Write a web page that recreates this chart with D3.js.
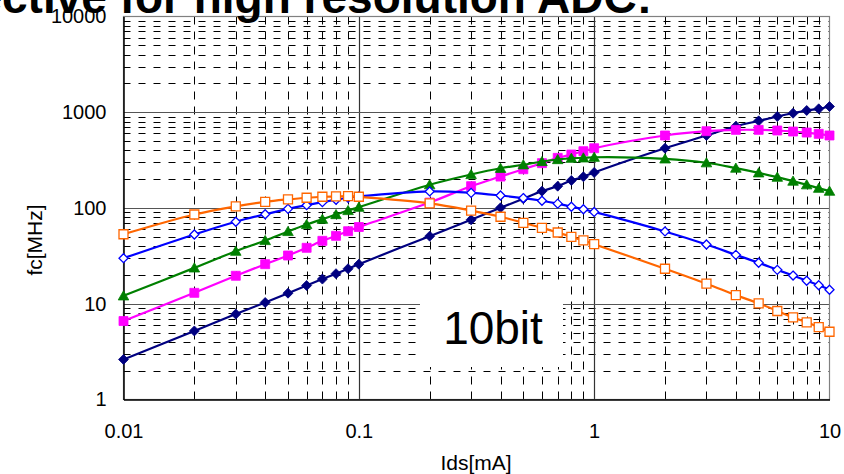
<!DOCTYPE html>
<html>
<head>
<meta charset="utf-8">
<script src="https://cdn.jsdelivr.net/npm/d3@7"></script>
<style>
  html, body { margin: 0; padding: 0; background: #fff; }
  svg { display: block; }
  text { font-family: "Liberation Sans", Arial, sans-serif; }
</style>
</head>
<body>
<svg id="chart" width="844" height="474"></svg>
<script>
// ---- data ----
const idsValues = [0.01,0.02,0.03,0.04,0.05,0.06,0.07,0.08,0.09,0.1,
                   0.2,0.3,0.4,0.5,0.6,0.7,0.8,0.9,1,
                   2,3,4,5,6,7,8,9,10];
const seriesNavy    = [2.62,5.2,7.8,10.3,12.9,15.5,18.1,20.6,23.2,25.9,
                       50.8,75.3,100.5,125,150,169,194,212,235,
                       421,572,715,813,903,977,1043,1086,1148];
const seriesMagenta = [6.6,13,19.6,25.9,31.9,38.4,45.4,51.2,57.2,63.3,
                       114,169,213,254,294,334,362,392,421,
                       572,634,655,655,645,629,614,595,572];
const seriesGreen   = [12.1,23.7,35.4,45.8,56.9,67.3,76.4,85.5,94.2,102,
                       175,224,260,283,306,321,331,334,339,
                       326,297,261,233,210,191,175,161,150];
const seriesBlue    = [29.9,52.9,71.8,86.1,98,107,115,122,128,132,
                       149,144,135,127,119,111,103,97,91,
                       56.9,41.6,32.4,26.8,22.6,19.7,17.4,15.6,14];
const seriesOrange  = [53.2,85.5,104,116,123,128,131,132,133,131,
                       112,94,81,70,62,55.5,50,45.8,41.9,
                       23.2,16.2,12.3,10.1,8.4,7.2,6.4,5.7,5.1];
const xTickValues = [0.01, 0.1, 1, 10];
const xTickLabels = ["0.01", "0.1", "1", "10"];
const yTickValues = [1, 10, 100, 1000, 10000];
const yTickLabels = ["1", "10", "100", "1000", "10000"];
const titleText = "Effective for high resolution ADC:";
const xAxisTitle = "Ids[mA]";
const yAxisTitle = "fc[MHz]";
const noteText = "10bit";

// ---- layout ----
const svg = d3.select("#chart");
const L = 123.5, R = 829.5, T = 16.5, B = 399.5;
const x = d3.scaleLog().domain([0.01, 10]).range([L, R]);
const y = d3.scaleLog().domain([1, 10000]).range([B, T]);

// minor gridlines
const minorX = [], minorY = [];
[0.01, 0.1, 1].forEach(d => { for (let k = 2; k <= 9; k++) minorX.push(+(d * k).toPrecision(3)); });
[1, 10, 100, 1000].forEach(d => { for (let k = 2; k <= 9; k++) minorY.push(d * k); });

const grid = svg.append("g");
grid.selectAll("line.mx").data(minorX).join("line")
  .attr("x1", d => Math.round(x(d)) + 0.5).attr("x2", d => Math.round(x(d)) + 0.5)
  .attr("y1", B).attr("y2", T)
  .attr("stroke", "#000").attr("stroke-width", 1).attr("stroke-dasharray", "8,7");
grid.selectAll("line.my").data(minorY).join("line")
  .attr("y1", d => Math.round(y(d)) + 0.5).attr("y2", d => Math.round(y(d)) + 0.5)
  .attr("x1", L).attr("x2", R)
  .attr("stroke", "#000").attr("stroke-width", 1).attr("stroke-dasharray", "7,8");
// major gridlines
grid.selectAll("line.Mx").data([0.1, 1]).join("line")
  .attr("x1", d => Math.round(x(d)) + 0.5).attr("x2", d => Math.round(x(d)) + 0.5)
  .attr("y1", B).attr("y2", T).attr("stroke", "#333").attr("stroke-width", 1.2);
grid.selectAll("line.My").data([10, 100, 1000]).join("line")
  .attr("y1", d => Math.round(y(d)) + 0.5).attr("y2", d => Math.round(y(d)) + 0.5)
  .attr("x1", L).attr("x2", R).attr("stroke", "#555").attr("stroke-width", 1.2);

// plot border
svg.append("rect").attr("x", L).attr("y", T).attr("width", R - L).attr("height", B - T)
  .attr("fill", "none").attr("stroke", "#808080").attr("stroke-width", 1.2);

// white note box
svg.append("rect").attr("x", 420).attr("y", 286).attr("width", 143).attr("height", 81)
  .attr("fill", "#fff");
svg.append("text").attr("x", 493).attr("y", 344).attr("text-anchor", "middle")
  .attr("font-size", 46).attr("fill", "#000").text(noteText);

// axes
const xAxis = d3.axisBottom(x).tickValues(xTickValues)
  .tickFormat((d, i) => xTickLabels[i]).tickSize(0).tickPadding(24);
const gx = svg.append("g").attr("transform", `translate(0,${B})`).call(xAxis);
gx.select(".domain").attr("stroke", "#000").attr("stroke-width", 1.5);
gx.selectAll("text").attr("font-size", 20).attr("fill", "#000")
  .style("font-family", "'Liberation Sans', Arial, sans-serif");

const yAxis = d3.axisLeft(y).tickValues(yTickValues)
  .tickFormat((d, i) => yTickLabels[i]).tickSize(0).tickPadding(17);
const gy = svg.append("g").attr("transform", `translate(${L},0)`).call(yAxis);
gy.select(".domain").attr("stroke", "#000").attr("stroke-width", 1.5);
gy.selectAll("text").attr("font-size", 20).attr("fill", "#000")
  .style("font-family", "'Liberation Sans', Arial, sans-serif");

// axis titles
svg.append("text").attr("x", 476).attr("y", 470).attr("text-anchor", "middle")
  .attr("font-size", 21).text(xAxisTitle);
svg.append("text").attr("transform", "translate(42,240) rotate(-90)")
  .attr("text-anchor", "middle").attr("font-size", 21).text(yAxisTitle);

// title (partially off-canvas)
svg.append("text").attr("x", 652).attr("y", 13).attr("text-anchor", "end")
  .attr("font-size", 46).attr("font-weight", "bold").attr("fill", "#000").text(titleText);

// markers
const shapes = {
  diamond: s => `M0,${-s}L${s},0L0,${s}L${-s},0Z`,
  square: s => `M${-s},${-s}H${s}V${s}H${-s}Z`,
  triangle: s => `M0,${-s * 1.1}L${s * 1.15},${s * 0.9}L${-s * 1.15},${s * 0.9}Z`
};
const series = [
  { vals: seriesNavy,    color: "#000080", shape: "diamond",  size: 5,   fill: "#000080" },
  { vals: seriesMagenta, color: "#FF00FF", shape: "square",   size: 4.5, fill: "#FF00FF" },
  { vals: seriesGreen,   color: "#008000", shape: "triangle", size: 4.6, fill: "#008000" },
  { vals: seriesBlue,    color: "#0000FF", shape: "diamond",  size: 4.5, fill: "#FFFFFF" },
  { vals: seriesOrange,  color: "#FF6600", shape: "square",   size: 4.5, fill: "#FFFFFF" }
];
const line = d3.line().x(d => x(d[0])).y(d => y(d[1])).curve(d3.curveCatmullRom.alpha(0.5));
series.forEach(s => {
  const pts = idsValues.map((v, i) => [v, s.vals[i]]);
  const g = svg.append("g");
  g.append("path").datum(pts).attr("d", line).attr("fill", "none")
    .attr("stroke", s.color).attr("stroke-width", 2.2);
  g.selectAll("path.m").data(pts).join("path").attr("class", "m")
    .attr("transform", d => `translate(${x(d[0])},${y(d[1])})`)
    .attr("d", shapes[s.shape](s.size))
    .attr("fill", s.fill).attr("stroke", s.color).attr("stroke-width", s.fill === "#FFFFFF" ? 1.3 : 0.8);
});
</script>
</body>
</html>
